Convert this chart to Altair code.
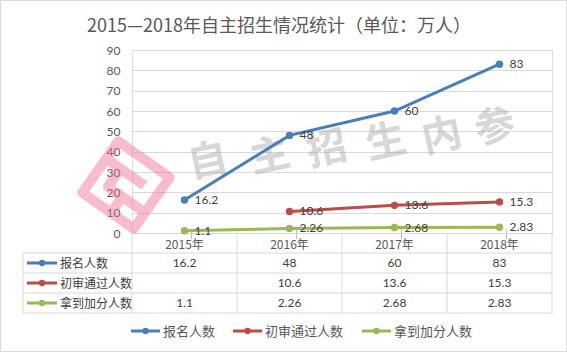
import altair as alt
import pandas as pd

# ---------------- data ----------------
years = ["2015年", "2016年", "2017年", "2018年"]
series_names = ["报名人数", "初审通过人数", "拿到加分人数"]
applicants = [16.2, 48, 60, 83]
first_review = [None, 10.6, 13.6, 15.3]
bonus = [1.1, 2.26, 2.68, 2.83]
series_colors = ["#4A7EBB", "#BE4B48", "#98B954"]
y_ticks = [0, 10, 20, 30, 40, 50, 60, 70, 80, 90]
title_text = "2015—2018年自主招生情况统计（单位：万人）"
watermark_text = "自主招生内参"

CJK = "Noto Sans CJK SC"
NUM = "Lato"
GRID = "#D9D9D9"

rows = []
for name, vals in zip(series_names, [applicants, first_review, bonus]):
    for yr, v in zip(years, vals):
        if v is not None:
            rows.append({"series": name, "year": yr, "value": v, "label": str(v)})
df = pd.DataFrame(rows)
years_df = pd.DataFrame({"year": years})
series_df = pd.DataFrame({"series": series_names})
one = pd.DataFrame({"k": [0]})

# ---------------- shared encodings ----------------
x_scale = alt.Scale(type="band", domain=years, paddingInner=0, paddingOuter=0)
x_mid = alt.X("year:N", sort=years, scale=x_scale, axis=None, bandPosition=0.5)
x_edge = alt.X("year:N", sort=years, scale=x_scale, axis=None, bandPosition=0)
color_enc = alt.Color("series:N", scale=alt.Scale(domain=series_names, range=series_colors), legend=None)

y_val = alt.Y(
    "value:Q",
    scale=alt.Scale(domain=[0, 90], nice=False),
    axis=alt.Axis(values=y_ticks, title=None, grid=True, gridColor=GRID, gridWidth=1,
                  domain=False, ticks=False, labelPadding=12, labelFontSize=12,
                  labelColor="#595959", labelFont=NUM, orient="left"),
)
y_row = alt.Y(
    "series:N",
    scale=alt.Scale(type="band", domain=series_names, range=[203, 263], paddingInner=0, paddingOuter=0),
    axis=None, bandPosition=0.5,
)

# ---------------- decorations (watermark, frame) ----------------
logo_path = ("M-0.86,-0.86L0.86,-0.86L0.86,0.86L-0.86,0.86Z "
             "M-0.86,-0.28L0.42,-0.28 M-0.38,-0.28L-0.38,0.32L0.86,0.32 M0.1,0.32L0.1,0.86")
logo = alt.Chart(one).mark_point(shape=logo_path, size=5329, angle=35, filled=False,
                                 stroke="#EE6F8F", strokeWidth=10, opacity=0.45,
                                 strokeJoin="round").encode(x=alt.value(-6), y=alt.value(135))

wm_pos = [(76, 112), (138, 107), (195, 100), (254, 93), (310, 87), (363, 78)]
wm_layers = []
for ch, (wx, wy) in zip(watermark_text, wm_pos):
    wm_layers.append(
        alt.Chart(one).mark_text(text=ch, font=CJK, fontSize=40, fontWeight="bold",
                                 color="#A8A8A8", opacity=0.45, angle=348,
                                 baseline="middle", align="center")
        .encode(x=alt.value(wx), y=alt.value(wy))
    )

border = alt.Chart(one).mark_rect(fillOpacity=0, stroke=GRID, strokeWidth=1).encode(
    x=alt.value(-131.5), x2=alt.value(434.5), y=alt.value(-49.5), y2=alt.value(301.5))

title = alt.Chart(one).mark_text(text=title_text, font=CJK, fontSize=18, color="#595959",
                                 align="center", baseline="middle").encode(
    x=alt.value(147), y=alt.value(-23))

# ---------------- table grid ----------------
grid_layers = []
for yy in [203, 223, 243, 263]:
    grid_layers.append(alt.Chart(one).mark_rule(color=GRID, strokeWidth=1).encode(
        x=alt.value(-109), x2=alt.value(420), y=alt.value(yy)))
grid_layers.append(alt.Chart(years_df).mark_rule(color=GRID, strokeWidth=1).encode(
    x=x_edge, y=alt.value(183), y2=alt.value(263)))
grid_layers.append(alt.Chart(one).mark_rule(color=GRID, strokeWidth=1).encode(
    x=alt.value(420), y=alt.value(183), y2=alt.value(263)))
grid_layers.append(alt.Chart(one).mark_rule(color=GRID, strokeWidth=1).encode(
    x=alt.value(-109), y=alt.value(203), y2=alt.value(263)))
axis_ticks = alt.Chart(years_df).mark_rule(color="#BFBFBF", strokeWidth=1, xOffset=7).encode(
    x=x_mid, y=alt.value(179), y2=alt.value(189))

# ---------------- table content ----------------
header = alt.Chart(years_df).mark_text(font=CJK, fontSize=12, color="#595959",
                                       baseline="middle").encode(
    x=x_mid, y=alt.value(195), text="year:N")
cells = alt.Chart(df).mark_text(font=NUM, fontSize=12, color="#404040", baseline="middle").encode(
    x=x_mid, y=y_row, text="label:N")
names = alt.Chart(series_df).mark_text(font=CJK, fontSize=12, color="#404040", align="left",
                                       baseline="middle", dy=1).encode(
    x=alt.value(-72), y=y_row, text="series:N")
icon_line = alt.Chart(series_df).mark_rule(strokeWidth=3).encode(
    x=alt.value(-105), x2=alt.value(-75), y=y_row, color=color_enc)
icon_dot = alt.Chart(series_df).mark_circle(size=40, opacity=1).encode(
    x=alt.value(-90), y=y_row, color=color_enc)
table = alt.layer(cells, names, icon_line, icon_dot)

# ---------------- legend ----------------
legend_layers = []
for name, col, lx in zip(series_names, series_colors, [-1, 101, 230]):
    legend_layers.append(alt.Chart(one).mark_rule(color=col, strokeWidth=3).encode(
        x=alt.value(lx), x2=alt.value(lx + 29), y=alt.value(281)))
    legend_layers.append(alt.Chart(one).mark_circle(color=col, size=40, opacity=1).encode(
        x=alt.value(lx + 14.5), y=alt.value(281)))
    legend_layers.append(alt.Chart(one).mark_text(text=name, font=CJK, fontSize=13,
                                                  color="#595959", align="left",
                                                  baseline="middle", dy=1).encode(
        x=alt.value(lx + 32), y=alt.value(281)))

# ---------------- main lines ----------------
line = alt.Chart(df).mark_line(strokeWidth=3).encode(x=x_mid, y=y_val, color=color_enc)
points = alt.Chart(df).mark_circle(size=55, opacity=1).encode(x=x_mid, y=y_val, color=color_enc)
labels = alt.Chart(df).mark_text(align="left", baseline="middle", dx=10, font=NUM, fontSize=12,
                                 color="#404040").encode(x=x_mid, y=y_val, text="label:N")
main = alt.layer(line, points, labels)

chart = alt.layer(
    logo, *wm_layers, border, title, *grid_layers, axis_ticks, header, *legend_layers,
    table, main,
).resolve_scale(y="independent").properties(
    width=420, height=183,
    autosize=alt.AutoSizeParams(type="none"),
    padding={"left": 132, "top": 50, "right": 15, "bottom": 119},
).configure_view(stroke=None).configure(background="white")

chart.save("out.html", embed_options={"renderer": "svg", "actions": False})
